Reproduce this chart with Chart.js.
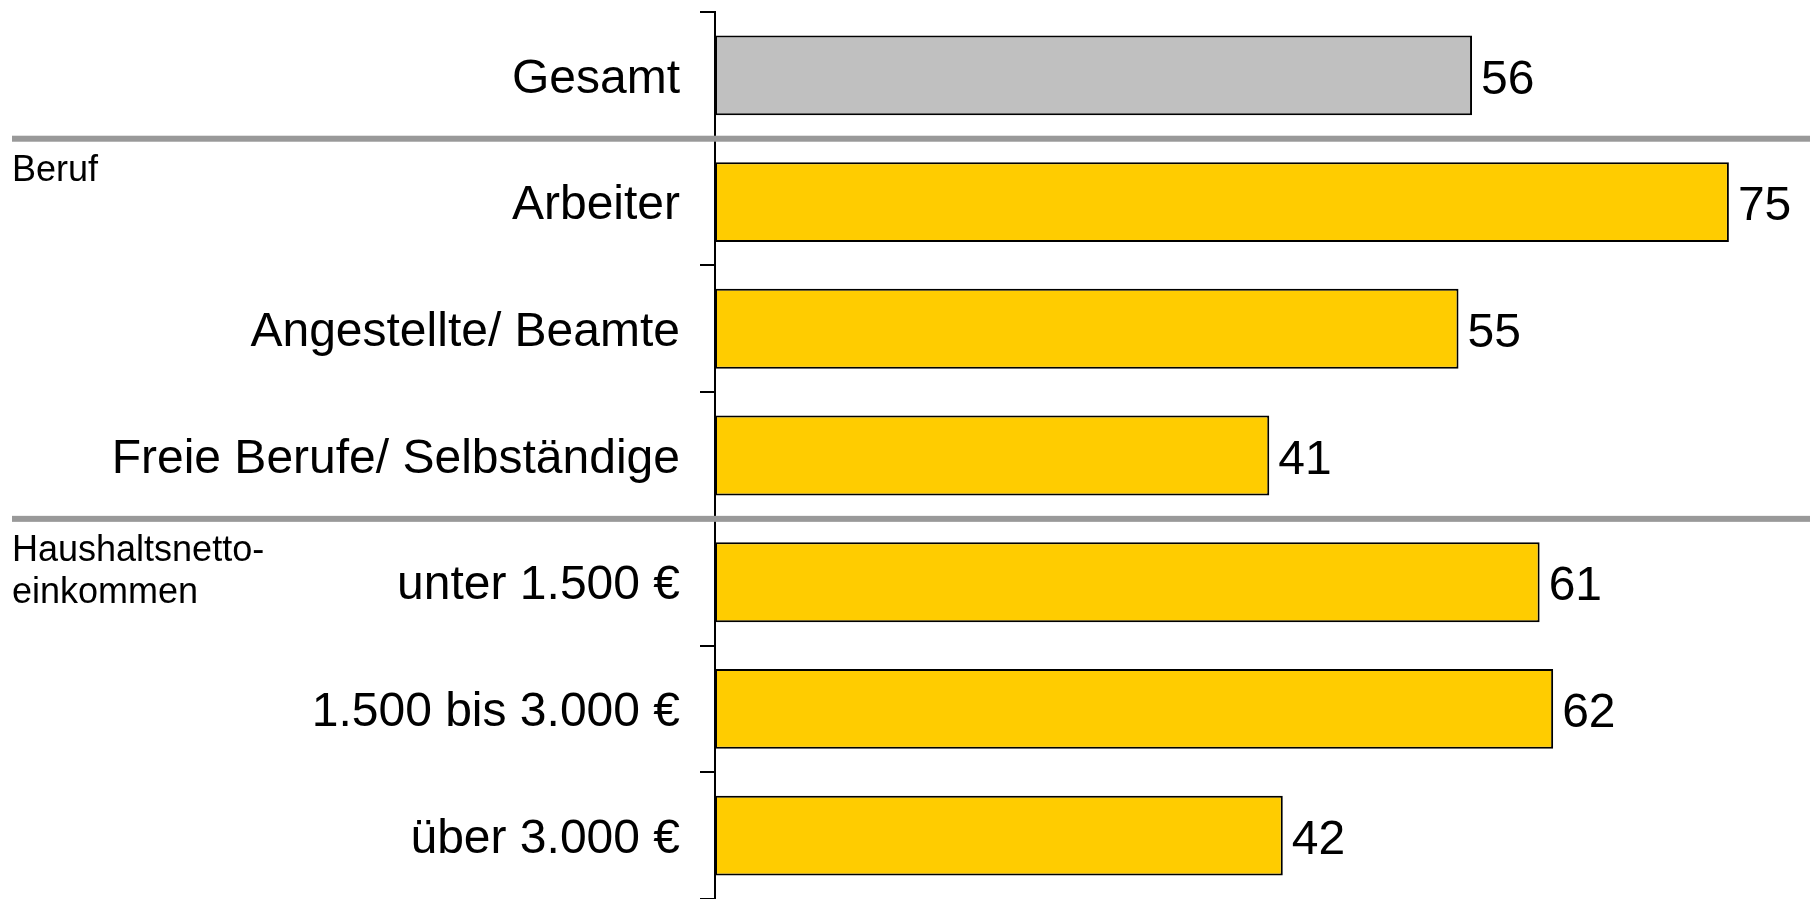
<!DOCTYPE html>
<html>
<head>
<meta charset="utf-8">
<script src="https://cdn.jsdelivr.net/npm/chart.js@4/dist/chart.umd.min.js"></script>
<style>
  body { margin: 0; background: #fff; }
  #wrap { width: 1810px; height: 899px; position: relative; }
</style>
</head>
<body>
<div id="wrap"><canvas id="myChart"></canvas></div>
<script>
var categories = [
  "Gesamt",
  "Arbeiter",
  "Angestellte/ Beamte",
  "Freie Berufe/ Selbständige",
  "unter 1.500 €",
  "1.500 bis 3.000 €",
  "über 3.000 €",
];
var values = [56, 75, 55, 41, 61, 62, 42];
var barColors = ["#C0C0C0", "#FFCC00", "#FFCC00", "#FFCC00", "#FFCC00", "#FFCC00", "#FFCC00"];
// gray lines go after these category indexes, group titles sit below them
var separatorsAfter = [0, 3];
var groupTitles = [["Beruf"], ["Haushaltsnetto-", "einkommen"]];

var FONT = '"Liberation Sans", Arial, sans-serif';

var extras = {
  id: "extras",
  afterDatasetsDraw: function (chart) {
    var ctx = chart.ctx;
    var meta = chart.getDatasetMeta(0);
    ctx.save();
    ctx.fillStyle = "#000";
    ctx.font = "48px " + FONT;
    ctx.textAlign = "left";
    ctx.textBaseline = "middle";
    meta.data.forEach(function (bar, i) {
      ctx.fillText(values[i], bar.x + 9, bar.y + 5);
    });
    ctx.restore();
  },
  afterDraw: function (chart) {
    var ctx = chart.ctx;
    var y = chart.scales.y;
    ctx.save();
    separatorsAfter.forEach(function (idx, g) {
      var sy = (y.getPixelForValue(idx) + y.getPixelForValue(idx + 1)) / 2;
      ctx.fillStyle = "#999999";
      ctx.fillRect(12, sy - 3, chart.width - 12, 6);
      ctx.fillStyle = "#000";
      ctx.font = "36px " + FONT;
      ctx.textAlign = "left";
      ctx.textBaseline = "alphabetic";
      groupTitles[g].forEach(function (line, k) {
        ctx.fillText(line, 12, sy + 42 + k * 42);
      });
    });
    ctx.restore();
  },
};

var barGraph = new Chart(document.getElementById("myChart"), {
  type: "bar",
  data: {
    labels: categories,
    datasets: [
      {
        data: values,
        backgroundColor: barColors,
        borderColor: "#000",
        borderWidth: 2,
        borderSkipped: false,
        categoryPercentage: 1,
        barPercentage: 0.63,
      },
    ],
  },
  options: {
    indexAxis: "y",
    responsive: true,
    maintainAspectRatio: false,
    animation: false,
    layout: { padding: { top: 12, left: 0, right: 0, bottom: 0 } },
    plugins: {
      legend: { display: false },
      tooltip: { enabled: false },
    },
    scales: {
      x: { display: false, min: 0, max: 81 },
      y: {
        afterFit: function (scale) {
          scale.width = 715;
          scale.paddingTop = 0;
          scale.paddingBottom = 0;
        },
        border: { display: true, color: "#000", width: 2 },
        grid: {
          display: true,
          drawOnChartArea: false,
          drawTicks: true,
          tickLength: 15,
          color: "#000",
          lineWidth: 2,
        },
        ticks: {
          color: "#000",
          padding: 20,
          labelOffset: 4,
          font: { family: FONT, size: 48 },
        },
      },
    },
  },
  plugins: [extras],
});
</script>
</body>
</html>
